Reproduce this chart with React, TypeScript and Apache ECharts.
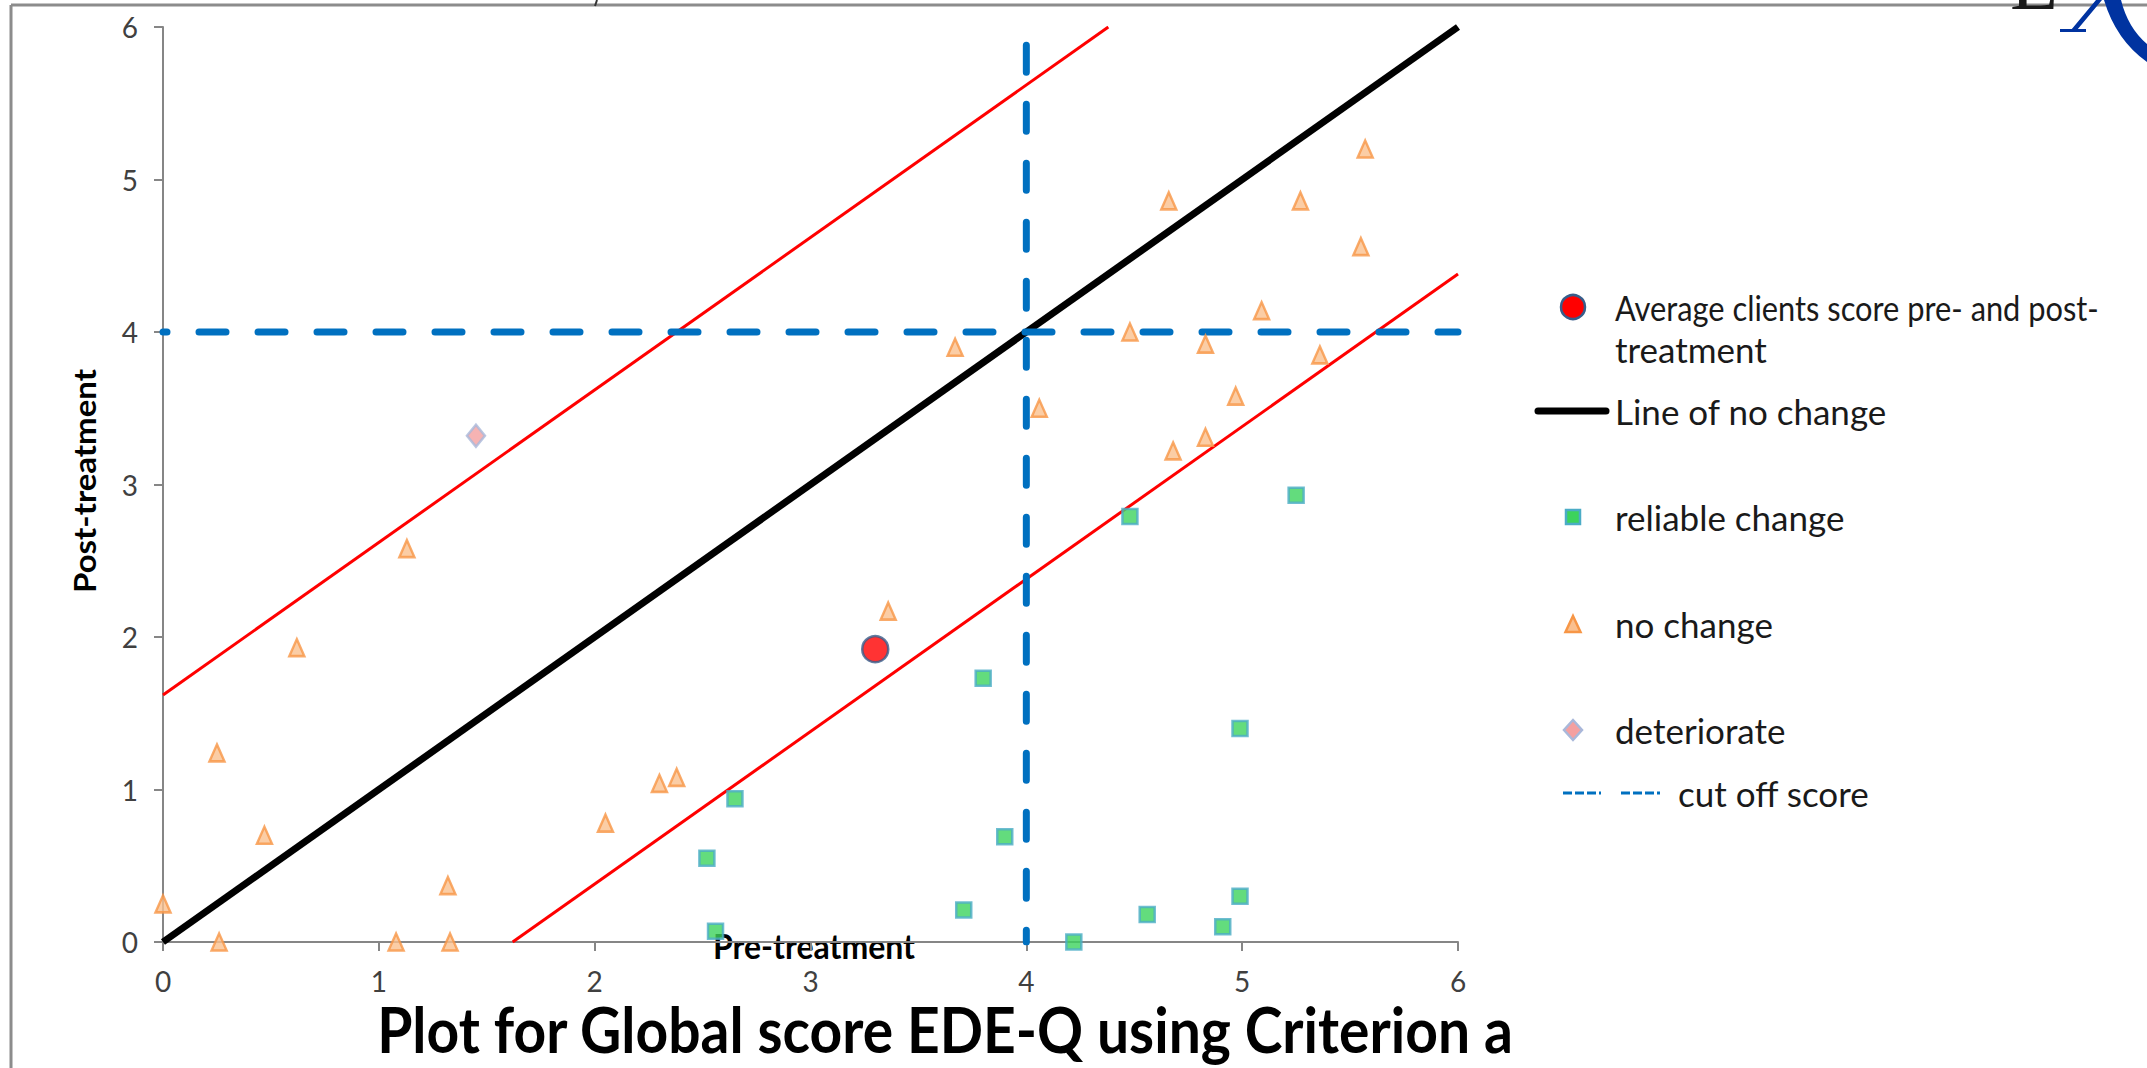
import React, { useEffect, useRef } from "react";
import * as echarts from "echarts";

// ---------- data ----------
const AXIS_MIN = 0;
const AXIS_MAX = 6;
const AXIS_STEP = 1;

const NO_CHANGE: [number, number][] = [
  [0, 0.25], [0.26, 0], [0.25, 1.24], [0.47, 0.7], [0.62, 1.93], [1.13, 2.58],
  [1.08, 0], [1.32, 0.37], [1.33, 0], [2.05, 0.78], [2.3, 1.04], [2.38, 1.08],
  [3.36, 2.17], [3.67, 3.9], [4.06, 3.5], [4.48, 4.0], [4.66, 4.86], [4.68, 3.22],
  [4.83, 3.31], [4.83, 3.92], [4.97, 3.58], [5.09, 4.14], [5.27, 4.86], [5.36, 3.85],
  [5.55, 4.56], [5.57, 5.2],
];

const RELIABLE_CHANGE: [number, number][] = [
  [2.52, 0.55], [2.65, 0.94], [2.56, 0.07], [3.8, 1.73], [3.71, 0.21], [3.9, 0.69],
  [4.22, 0.0], [4.48, 2.79], [4.56, 0.18], [4.91, 0.1], [4.99, 1.4], [4.99, 0.3],
  [5.25, 2.93],
];

const DETERIORATE: [number, number][] = [[1.45, 3.32]];
const AVERAGE: [number, number][] = [[3.3, 1.92]];

const NO_CHANGE_LINE: [number, number][] = [[0, 0], [6, 6]];
const UPPER_RCI: [number, number][] = [[0, 1.62], [4.38, 6]];
const LOWER_RCI: [number, number][] = [[1.62, 0], [6, 4.38]];
const CUTOFF_H: [number, number][] = [[0, 4], [6, 4]];
const CUTOFF_V: [number, number][] = [[4, 5.88], [4, 0]];

const TITLE = "Plot for Global score EDE-Q using Criterion a";
const X_NAME = "Pre-treatment";
const Y_NAME = "Post-treatment";
const LEGEND_LABELS = [
  "Average clients score pre- and post-",
  "treatment",
  "Line of no change",
  "reliable change",
  "no change",
  "deteriorate",
  "cut off score",
];

// ---------- styles ----------
const FONT = "Lato, 'Open Sans', sans-serif";
const SQ_FILL = "#3CD35C";
const SQ_BORDER = "#4BACC6";
const TRI_FILL = "#FAC08F";
const TRI_BORDER = "#F79646";
const DIA_FILL = "#F4A0A0";
const DIA_BORDER = "#A9B8DA";
const AVG_FILL = "#FF0000";
const AVG_BORDER = "#385D8A";
const CUT_COLOR = "#0070C0";
const LEGEND_SIZE = 35;

export default function App() {
  const ref = useRef<HTMLDivElement>(null);

  useEffect(() => {
    if (!ref.current) return;
    const logoD =
      "M2060,29 L2086,29 L2086,32 L2060,32 Z M2071,30 L2096,0 L2102,0 L2077,30 Z M2104,0 L2121,0 Q2128,28 2147,44 L2147,62 Q2116,40 2104,0 Z";
    echarts.graphic.registerShape("logo", echarts.graphic.extendPath(logoD, {}) as any);

    const chart = echarts.init(ref.current, undefined, { renderer: "svg" });

    const lineSeries = (name: string, data: [number, number][], style: any) => ({
      type: "line",
      name,
      data,
      symbol: "none",
      silent: true,
      z: 2,
      lineStyle: style,
    });

    const legendX = 1615;
    const legendMarkX = 1573;
    const text = (
      t: string,
      x: number,
      y: number,
      size: number,
      opts: any = {},
    ) => ({
      type: "text",
      x,
      y,
      rotation: opts.rotation || 0,
      scaleX: opts.scaleX || 1,
      scaleY: opts.scaleY || 1,
      style: {
        text: t,
        fill: opts.fill || "#1a1a1a",
        fontFamily: FONT,
        fontSize: size,
        fontWeight: opts.bold ? "bold" : "normal",
        align: opts.align || "left",
        verticalAlign: "middle",
        textAlign: opts.align || "left",
        textVerticalAlign: "middle",
      },
    });

    const option: any = {
      animation: false,
      backgroundColor: "#ffffff",
      grid: { left: 163, right: 689, top: 27, bottom: 126, containLabel: false },
      xAxis: {
        type: "value",
        min: AXIS_MIN,
        max: AXIS_MAX,
        interval: AXIS_STEP,
        axisLine: { lineStyle: { color: "#868686", width: 2 } },
        axisTick: { show: true, length: 9, lineStyle: { color: "#868686", width: 2 } },
        axisLabel: { fontFamily: FONT, fontSize: 28, color: "#404040", margin: 25 },
        splitLine: { show: false },
      },
      yAxis: {
        type: "value",
        min: AXIS_MIN,
        max: AXIS_MAX,
        interval: AXIS_STEP,
        axisLine: { lineStyle: { color: "#868686", width: 2 } },
        axisTick: { show: true, length: 9, lineStyle: { color: "#868686", width: 2 } },
        axisLabel: { fontFamily: FONT, fontSize: 28, color: "#404040", margin: 25 },
        splitLine: { show: false },
      },
      series: [
        lineSeries("Line of no change", NO_CHANGE_LINE, { color: "#000", width: 7 }),
        lineSeries("upper RCI", UPPER_RCI, { color: "#FF0000", width: 3 }),
        lineSeries("lower RCI", LOWER_RCI, { color: "#FF0000", width: 3 }),
        lineSeries("cut off score", CUTOFF_H, {
          color: CUT_COLOR,
          width: 7,
          type: [27, 32],
          dashOffset: 22.5,
          cap: "round",
        }),
        lineSeries("cut off score v", CUTOFF_V, {
          color: CUT_COLOR,
          width: 7,
          type: [27, 32],
          dashOffset: 0,
          cap: "round",
        }),
        {
          type: "scatter",
          name: "no change",
          data: NO_CHANGE,
          symbol: "triangle",
          symbolSize: [15, 17],
          z: 3,
          itemStyle: { color: TRI_FILL, borderColor: TRI_BORDER, borderWidth: 2.5 },
        },
        {
          type: "scatter",
          name: "reliable change",
          data: RELIABLE_CHANGE,
          symbol: "rect",
          symbolSize: 15,
          z: 3,
          itemStyle: { color: SQ_FILL, borderColor: SQ_BORDER, borderWidth: 2.5 },
        },
        {
          type: "scatter",
          name: "deteriorate",
          data: DETERIORATE,
          symbol: "diamond",
          symbolSize: [18, 22],
          z: 3,
          itemStyle: { color: DIA_FILL, borderColor: DIA_BORDER, borderWidth: 2.5 },
        },
        {
          type: "scatter",
          name: "Average clients score pre- and post-treatment",
          data: AVERAGE,
          symbol: "circle",
          symbolSize: 26,
          z: 4,
          itemStyle: { color: AVG_FILL, borderColor: AVG_BORDER, borderWidth: 2.5 },
        },
      ],
      graphic: [
        // frame
        { type: "line", shape: { x1: 11, y1: 5, x2: 2147, y2: 5 }, style: { stroke: "#8c8c8c", lineWidth: 3 } },
        { type: "line", shape: { x1: 11, y1: 5, x2: 11, y2: 1068 }, style: { stroke: "#8c8c8c", lineWidth: 3 } },
        { type: "line", shape: { x1: 597, y1: 0, x2: 595, y2: 6 }, style: { stroke: "#333", lineWidth: 2 } },
        // logo fragment
        {
          type: "text",
          x: 2010,
          y: 22,
          style: {
            text: "L",
            fill: "#1a1a1a",
            fontFamily: "'Liberation Serif', 'DejaVu Serif', serif",
            fontSize: 80,
            align: "left",
            verticalAlign: "bottom",
            textAlign: "left",
            textVerticalAlign: "bottom",
          },
        },
        { type: "logo", x: 0, y: 0, style: { fill: "#0033A0" } },
        // title and axis names
        text(TITLE, 945, 1029, 57, { bold: true, align: "center", fill: "#000", scaleY: 1.1 }),
        text(X_NAME, 814, 946, 32, { bold: true, align: "center", fill: "#000", scaleY: 1.05 }),
        text(Y_NAME, 85, 481, 30, {
          bold: true,
          align: "center",
          fill: "#000",
          rotation: Math.PI / 2,
          scaleX: 1.1,
        }),
        // legend
        {
          type: "circle",
          shape: { cx: legendMarkX, cy: 307, r: 12 },
          style: { fill: AVG_FILL, stroke: AVG_BORDER, lineWidth: 2.5 },
        },
        text(LEGEND_LABELS[0], legendX, 307, LEGEND_SIZE, { scaleX: 0.88 }),
        text(LEGEND_LABELS[1], legendX, 349, LEGEND_SIZE),
        {
          type: "line",
          shape: { x1: 1538, y1: 411, x2: 1606, y2: 411 },
          style: { stroke: "#000", lineWidth: 7, lineCap: "round" },
        },
        text(LEGEND_LABELS[2], legendX, 411, LEGEND_SIZE),
        {
          type: "rect",
          shape: { x: legendMarkX - 7, y: 517 - 7, width: 14, height: 14 },
          style: { fill: SQ_FILL, stroke: SQ_BORDER, lineWidth: 2.5 },
        },
        text(LEGEND_LABELS[3], legendX, 517, LEGEND_SIZE),
        {
          type: "polygon",
          shape: { points: [[legendMarkX, 616], [legendMarkX + 7.5, 632], [legendMarkX - 7.5, 632]] },
          style: { fill: TRI_FILL, stroke: TRI_BORDER, lineWidth: 2.5 },
        },
        text(LEGEND_LABELS[4], legendX, 624, LEGEND_SIZE),
        {
          type: "polygon",
          shape: {
            points: [[legendMarkX, 720], [legendMarkX + 9, 730], [legendMarkX, 740], [legendMarkX - 9, 730]],
          },
          style: { fill: DIA_FILL, stroke: DIA_BORDER, lineWidth: 2.5 },
        },
        text(LEGEND_LABELS[5], legendX, 730, LEGEND_SIZE),
        {
          type: "line",
          shape: { x1: 1563, y1: 793, x2: 1601, y2: 793 },
          style: { stroke: CUT_COLOR, lineWidth: 3, lineDash: [9, 3] },
        },
        {
          type: "line",
          shape: { x1: 1621, y1: 793, x2: 1660, y2: 793 },
          style: { stroke: CUT_COLOR, lineWidth: 3, lineDash: [9, 3] },
        },
        text(LEGEND_LABELS[6], 1678, 793, LEGEND_SIZE),
      ],
    };

    chart.setOption(option);
    return () => chart.dispose();
  }, []);

  return (
    <div
      ref={ref}
      style={{ position: "fixed", left: 0, top: 0, width: 2147, height: 1068, background: "#fff" }}
    />
  );
}
